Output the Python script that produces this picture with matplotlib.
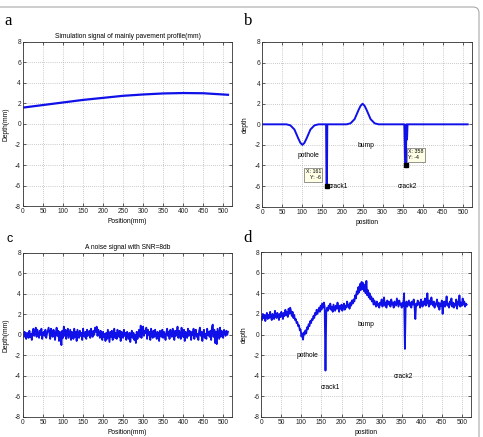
import numpy as np
import matplotlib
matplotlib.use("Agg")
import matplotlib.pyplot as plt
from matplotlib.patches import FancyBboxPatch

plt.rcParams['font.family'] = ['Liberation Sans', 'DejaVu Sans']
plt.rcParams['axes.unicode_minus'] = False

# panel a: smooth pavement profile
a_pos = [0, 50, 100, 150, 200, 250, 300, 350, 400, 450, 512]
a_val = [1.6, 1.85, 2.1, 2.35, 2.55, 2.75, 2.88, 2.98, 3.02, 3.0, 2.85]

# panel b: defects (pothole, crack1, bump, crack2)
b_pos = [0, 60, 70, 80, 85, 90, 95, 100, 105, 110, 115, 120, 130, 140,
         159, 160, 161, 162, 210, 220, 230, 235, 240, 245, 250, 255, 260,
         265, 270, 280, 290, 354, 356, 358, 359, 360, 361, 362, 512]
b_val = [0, 0, -0.1, -0.5, -0.95, -1.4, -1.8, -2.0, -1.8, -1.4, -0.95, -0.5, -0.1, 0,
         0, -5.8, -6, 0, 0, 0.1, 0.5, 0.95, 1.4, 1.8, 2.0, 1.8, 1.4,
         0.95, 0.5, 0.1, 0, 0, -3.8, -4, 0, -1.5, -1.2, 0, 0]

# panel c: noise, one sample every 2 mm
c_val = [
    0.1, -0.2, 0.3, -0.1, -0.4, 0.2, 0.0, -0.3, 0.4, -0.2, 0.1, -0.5, 0.3, 0.6, -0.1, 0.2,
    0.7, -0.2, 0.5, 0.1, -0.3, 0.4, 0.0, 0.6, -0.4, 0.2, 0.3, -0.1, 0.5, -0.3, 0.1, 0.4,
    0.7, 0.2, -0.4, 0.6, 0.1, -0.2, 0.5, 0.3, -0.5, 0.2, 0.7, -0.1, 0.4, -0.6, 0.3, -0.2,
    -1.0, 0.4, -0.3, 0.8, -0.1, 0.5, -0.4, 0.2, 0.6, -0.3, 0.1, 0.5, -0.5, 0.3, 0.0, -0.4,
    0.6, -0.2, 0.3, -0.6, 0.5, 0.1, -0.3, 0.4, -0.1, 0.2, -0.5, 0.6, 0.0, -0.2, 0.3, -0.4,
    0.5, -0.1, 0.2, 0.4, -0.3, 0.6, 0.1, -0.2, 0.4, 0.0, 0.7, 0.3, 0.8, -0.1, 0.5, 0.2,
    -0.3, 0.4, 0.0, -0.5, 0.3, -0.2, 0.1, -0.6, 0.2, -0.4, 0.5, -0.1, -0.7, 0.3, -0.2, 0.4,
    -0.5, 0.1, 0.6, -0.3, 0.2, -0.4, 0.5, 0.0, -0.2, 0.4, -0.6, 0.3, 0.1, -0.3, 0.5, -0.1,
    0.2, -0.5, 0.3, 0.0, -0.4, 0.2, -0.7, 0.1, 0.4, -0.3, 0.2, -0.5, 0.0, -0.8, 0.3, -0.4,
    0.1, 0.5, -0.2, 0.9, -0.3, 0.6, 0.8, -0.1, 0.4, 0.2, 0.7, -0.4, 0.5, 0.0, 0.3, -0.5,
    0.6, 0.1, -0.3, 0.4, -0.2, 0.5, 0.0, -0.4, 0.3, 0.1, -0.6, 0.4, 0.2, -0.2, 0.5, -0.3,
    0.3, 0.0, -0.5, 0.2, 0.6, -0.1, 0.3, -0.4, 0.5, 0.1, -0.2, 0.6, 0.0, -0.5, 0.4, -0.1,
    0.2, 0.8, -0.3, 0.4, 0.1, -0.4, 0.7, 0.0, -0.2, 0.5, -0.6, 0.3, 0.1, -0.3, 0.6, -0.1,
    0.4, 0.2, -0.5, 0.3, 0.0, 0.6, -0.4, 0.2, 0.5, -0.2, 0.1, -0.5, 0.4, 0.7, -0.1, 0.3,
    -0.6, 0.2, 0.5, -0.3, 0.1, -0.4, 0.6, 0.0, 0.3, -0.2, 0.4, -0.5, 0.8, 1.0, -0.2, 0.5,
    -0.8, 0.3, -0.9, 0.6, 0.1, -0.4, 0.7, -0.2, 0.4, 0.0, -0.3, 0.5, 0.2, -0.1, 0.4, 0.0,
    0.3]

# panel d: combined signal, one sample every 2 mm
d_val = [
    1.7, 1.4, 2.0, 1.6, 1.9, 1.3, 1.8, 2.1, 1.5, 1.9, 1.6, 2.2, 1.7, 1.4, 2.0, 1.8,
    1.5, 2.3, 1.9, 1.6, 2.1, 1.8, 1.4, 2.0, 1.7, 2.2, 1.9, 1.5, 2.1, 1.8, 2.4, 1.9,
    2.2, 1.7, 2.5, 2.0, 2.6, 2.3, 1.8, 2.2, 1.6, 1.9, 1.4, 1.5, 1.1, 1.2, 0.8, 0.9,
    0.4, 0.5, -0.2, 0.1, -0.5, 0.2, 0.0, 0.4, 0.1, 0.7, 0.5, 1.0, 0.8, 1.3, 1.1, 1.5,
    1.4, 1.8, 1.6, 2.1, 1.9, 2.4, 2.0, 2.3, 2.6, 2.2, 2.8, 2.4, 3.0, 2.6, 3.1, 2.7,
    -3.5, 2.2, 2.6, 2.3, 2.8, 2.5, 3.0, 2.4, 2.7, 2.2, 2.9, 2.6, 2.3, 2.8, 2.5, 3.1,
    2.6, 2.2, 2.8, 2.5, 2.9, 2.3, 2.7, 3.0, 2.4, 2.8, 2.6, 3.2, 2.7, 2.9, 2.5, 3.1,
    2.8, 3.3, 3.0, 3.4, 3.2, 3.8, 3.5, 4.2, 3.9, 4.6, 4.1, 4.9, 4.3, 5.1, 4.4, 5.0,
    4.2, 4.8, 4.0, 5.2, 3.8, 4.3, 3.6, 4.0, 3.4, 3.7, 3.2, 3.5, 2.9, 3.3, 3.0, 2.7,
    3.2, 2.8, 3.0, 2.6, 3.1, 2.9, 3.4, 2.7, 3.0, 3.6, 2.8, 3.1, 2.6, 3.3, 2.9, 3.2,
    3.0, 2.7, 3.4, 2.9, 3.1, 2.6, 3.2, 3.0, 2.8, 3.5, 3.1, 2.7, 3.3, 2.9, 3.0, 2.6,
    3.1, 2.8, 4.0, -1.4, 2.9, 3.2, 2.7, 3.0, 3.3, 2.8, 3.1, 2.6, 3.2, 2.9, 3.4, 2.7,
    1.5, 3.0, 2.8, 3.3, 2.9, 3.1, 2.6, 3.4, 3.0, 2.7, 3.2, 2.9, 3.5, 2.8, 3.1, 4.0,
    3.0, 2.7, 3.3, 2.9, 3.6, 3.1, 2.8, 3.2, 2.6, 3.0, 2.9, 3.4, 2.7, 3.1, 2.4, 3.0,
    2.8, 3.3, 2.0, 2.9, 3.2, 2.7, 3.1, 3.7, 2.8, 3.0, 2.6, 3.2, 2.9, 3.5, 2.7, 3.1,
    2.6, 3.0, 2.8, 3.4, 2.5, 3.2, 2.9, 3.8, 2.7, 3.1, 2.8, 3.5, 2.9, 3.2, 2.7, 3.0,
    2.9]

c_pos = np.arange(len(c_val)) * 2
d_pos = np.arange(len(d_val)) * 2

x_ticks = list(range(0, 501, 50))
y_ticks = list(range(-8, 9, 2))

line_col = '#1010e8'
fs = 4.8

fig = plt.figure(figsize=(4.83, 4.37), dpi=100)

frame = FancyBboxPatch((-0.2, -0.2), 4.99, 4.50,
                       boxstyle="round,pad=0,rounding_size=0.06",
                       transform=fig.dpi_scale_trans, fill=False,
                       edgecolor='#a8a8a8', linewidth=0.8)
fig.add_artist(frame)

ax_a = fig.add_axes([0.0476, 0.5286, 0.4327, 0.3753])
ax_b = fig.add_axes([0.5431, 0.5271, 0.4335, 0.3768])
ax_c = fig.add_axes([0.0476, 0.0458, 0.4327, 0.3759])
ax_d = fig.add_axes([0.5410, 0.0458, 0.4335, 0.3775])


def style(ax, xlabel, ylabel, title=None):
    ax.set_xlim(0, 522)
    ax.set_ylim(-8, 8)
    ax.set_xticks(x_ticks)
    ax.set_yticks(y_ticks)
    ax.tick_params(direction='in', length=2.5, width=0.5, labelsize=fs,
                   top=True, right=True, pad=1.5, colors='#222222')
    ax.grid(True, color='#9a9a9a', linestyle=(0, (1, 2)), linewidth=0.5)
    for s in ax.spines.values():
        s.set_linewidth(0.6)
        s.set_color('#333333')
    ax.set_xlabel(xlabel, fontsize=fs)
    ax.set_ylabel(ylabel, fontsize=fs)
    ax.xaxis.set_label_coords(0.5, -0.075)
    ax.yaxis.set_label_coords(-0.066, 0.5)
    if title:
        ax.set_title(title, fontsize=fs, pad=3)


ax_a.plot(a_pos, a_val, color=line_col, linewidth=1.6)
style(ax_a, 'Position(mm)', 'Depth(mm)', 'Simulation signal of mainly pavement profile(mm)')

ax_b.plot(b_pos, b_val, color=line_col, linewidth=1.4)
style(ax_b, 'position', 'depth')
ax_b.plot([161, 358], [-6, -4], 's', color='black', markersize=3)
tip = dict(boxstyle='square,pad=0.3', facecolor='#ffffe6', edgecolor='#444444', linewidth=0.4)
ax_b.text(146, -4.9, 'X: 161\nY: -6', fontsize=3.8, ha='right', va='center', bbox=tip, linespacing=1.3)
ax_b.text(364, -2.95, 'X: 358\nY: -4', fontsize=3.8, ha='left', va='center', bbox=tip, linespacing=1.3)
ax_b.text(114, -3.0, 'pothole', fontsize=fs, ha='center', va='center')
ax_b.text(259, -2.1, 'bump', fontsize=fs, ha='center', va='center')
ax_b.text(166, -6.0, 'crack1', fontsize=fs, ha='left', va='center')
ax_b.text(362, -6.0, 'crack2', fontsize=fs, ha='center', va='center')

ax_c.plot(c_pos, c_val, color=line_col, linewidth=1.3)
style(ax_c, 'Position(mm)', 'Depth(mm)', 'A noise signal with SNR=8db')

ax_d.plot(d_pos, d_val, color=line_col, linewidth=1.3)
style(ax_d, 'position', 'depth')
ax_d.text(116, -2.0, 'pothole', fontsize=fs, ha='center', va='center')
ax_d.text(260, 1.0, 'bump', fontsize=fs, ha='center', va='center')
ax_d.text(173, -5.1, 'crack1', fontsize=fs, ha='center', va='center')
ax_d.text(355, -4.05, 'crack2', fontsize=fs, ha='center', va='center')

fig.text(0.0176, 0.952, 'a', fontsize=12, family='Liberation Serif', ha='center', va='center')
fig.text(0.5135, 0.952, 'b', fontsize=12, family='Liberation Serif', ha='center', va='center')
fig.text(0.0207, 0.453, 'c', fontsize=9, ha='center', va='center')
fig.text(0.5135, 0.4554, 'd', fontsize=12, family='Liberation Serif', ha='center', va='center')

fig.savefig('out.png', dpi=100)
